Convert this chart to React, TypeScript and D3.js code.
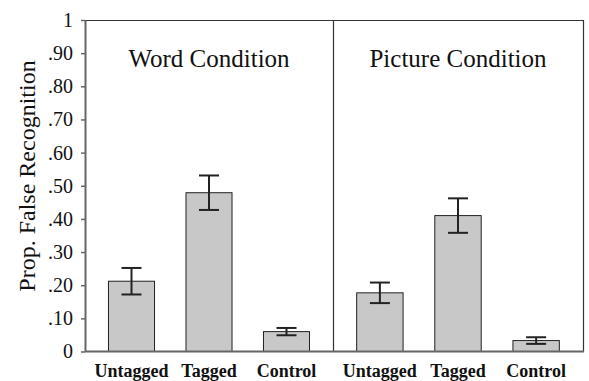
import React, { useRef, useEffect } from 'react'
import * as d3 from 'd3'

const categories = ['Untagged', 'Tagged', 'Control']
const conditions = ['Word Condition', 'Picture Condition']
const wordMeans = [0.212, 0.479, 0.06]
const wordErrors = [0.04, 0.052, 0.011]
const pictureMeans = [0.177, 0.41, 0.033]
const pictureErrors = [0.031, 0.052, 0.01]
const yTicks = [0, 0.1, 0.2, 0.3, 0.4, 0.5, 0.6, 0.7, 0.8, 0.9, 1]

const App = () => {
  const container = useRef<SVGSVGElement>(null)

  const width = 589
  const height = 381
  const left = 85
  const right = 583
  const top = 20
  const bottom = 351.5
  const divider = 333

  useEffect(() => {
    const svg = d3.select(container.current)
    svg.selectAll('*').remove()

    const font = 'Liberation Serif, DejaVu Serif, serif'

    const y = d3.scaleLinear().domain([0, 1]).range([bottom, top])

    const panels = [
      { title: conditions[0], x0: left, x1: divider, means: wordMeans, errors: wordErrors },
      { title: conditions[1], x0: divider, x1: right, means: pictureMeans, errors: pictureErrors }
    ]

    // frame: top and right borders, panel divider
    svg.append('line')
      .attr('x1', left).attr('x2', right).attr('y1', top + 0.5).attr('y2', top + 0.5)
      .style('stroke', '#333').style('stroke-width', 1.2)
    svg.append('line')
      .attr('x1', right + 0.5).attr('x2', right + 0.5).attr('y1', top).attr('y2', bottom)
      .style('stroke', '#333').style('stroke-width', 1.2)
    svg.append('line')
      .attr('x1', divider + 0.5).attr('x2', divider + 0.5).attr('y1', top).attr('y2', bottom)
      .style('stroke', '#333').style('stroke-width', 1.2)

    panels.forEach(p => {
      const x = d3.scaleBand()
        .domain(categories)
        .range([p.x0, p.x1])
        .paddingInner(0.406)
        .paddingOuter(0.303)

      const rows = categories.map((c, i) => ({ c, m: p.means[i], e: p.errors[i] }))

      svg.append('text')
        .attr('x', (p.x0 + p.x1) / 2)
        .attr('y', 67)
        .attr('text-anchor', 'middle')
        .attr('font-family', font)
        .attr('font-size', 25)
        .attr('fill', '#111')
        .text(p.title)

      const g = svg.append('g')

      g.selectAll('rect')
        .data(rows)
        .enter()
        .append('rect')
          .attr('x', d => x(d.c)!)
          .attr('y', d => y(d.m))
          .attr('width', x.bandwidth())
          .attr('height', d => bottom - y(d.m))
          .style('fill', '#c8c8c8')
          .style('stroke', '#222')
          .style('stroke-width', 1)

      // error bars
      const cap = 10
      rows.forEach(d => {
        const cx = x(d.c)! + x.bandwidth() / 2
        g.append('line')
          .attr('x1', cx).attr('x2', cx)
          .attr('y1', y(d.m + d.e)).attr('y2', y(d.m - d.e))
          .style('stroke', '#222').style('stroke-width', 2)
        g.append('line')
          .attr('x1', cx - cap).attr('x2', cx + cap)
          .attr('y1', y(d.m + d.e)).attr('y2', y(d.m + d.e))
          .style('stroke', '#222').style('stroke-width', 2)
        g.append('line')
          .attr('x1', cx - cap).attr('x2', cx + cap)
          .attr('y1', y(d.m - d.e)).attr('y2', y(d.m - d.e))
          .style('stroke', '#222').style('stroke-width', 2)
      })

      g.selectAll('text')
        .data(rows)
        .enter()
        .append('text')
          .attr('x', d => x(d.c)! + x.bandwidth() / 2)
          .attr('y', 377)
          .attr('text-anchor', 'middle')
          .attr('font-family', font)
          .attr('font-weight', 700)
          .attr('font-size', 18)
          .attr('fill', '#111')
          .text(d => d.c)
    })

    // bottom baseline
    svg.append('line')
      .attr('x1', left).attr('x2', right + 1).attr('y1', bottom).attr('y2', bottom)
      .style('stroke', '#666').style('stroke-width', 2)

    // y axis
    const yAxis = d3.axisLeft(y)
      .tickValues(yTicks)
      .tickSize(4)
      .tickSizeOuter(0)
      .tickPadding(8)
      .tickFormat(d => {
        const v = +d
        if (v === 0) return '0'
        if (v === 1) return '1'
        return d3.format('.2f')(v).replace(/^0/, '')
      })

    const axisG = svg.append('g')
      .attr('transform', `translate(${left}, 0)`)
      .call(yAxis)
      .attr('font-family', font)
      .attr('font-size', 20)
    axisG.select('.domain').style('stroke', '#666').style('stroke-width', 2)
    axisG.selectAll('.tick line').style('stroke', '#666').style('stroke-width', 1.5)
    axisG.selectAll('.tick text').attr('fill', '#111')

    // y axis label
    svg.append('text')
      .attr('transform', 'rotate(-90)')
      .attr('x', -176)
      .attr('y', 35)
      .attr('text-anchor', 'middle')
      .attr('font-family', font)
      .attr('font-size', 24)
      .attr('fill', '#111')
      .text('Prop. False Recognition')
  }, [])

  return (
    <svg
      ref={container}
      width={width}
      height={height}
      style={{ position: 'absolute', left: 0, top: 0, background: '#fff' }}
    />
  )
}

export default App
